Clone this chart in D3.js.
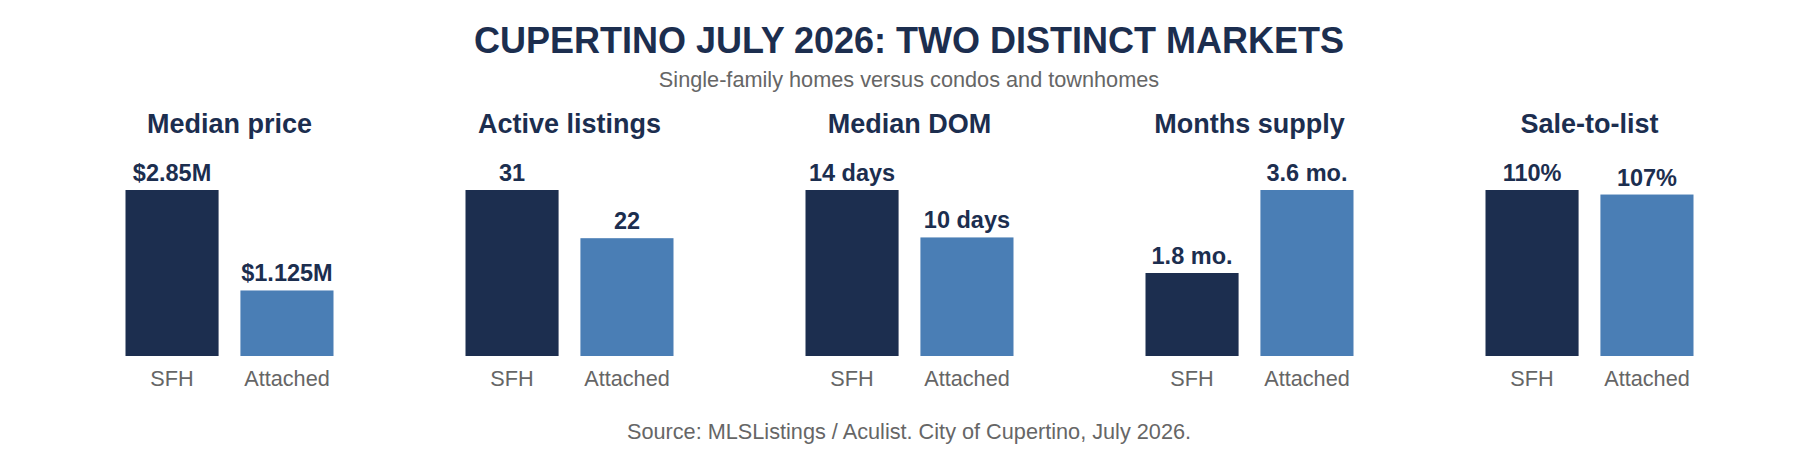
<!DOCTYPE html>
<html>
<head>
<meta charset="utf-8">
<script src="https://cdn.jsdelivr.net/npm/d3@7"></script>
<style>
  html, body { margin: 0; padding: 0; background: #ffffff; }
  svg { display: block; }
  text { font-family: "Liberation Sans", Arial, sans-serif; }
</style>
</head>
<body>
<svg id="chart" width="1818" height="455"></svg>
<script>
// ---- data ----
const chartTitle = "CUPERTINO JULY 2026: TWO DISTINCT MARKETS";
const chartSubtitle = "Single-family homes versus condos and townhomes";
const sourceNote = "Source: MLSListings / Aculist. City of Cupertino, July 2026.";
const metrics = ["Median price", "Active listings", "Median DOM", "Months supply", "Sale-to-list"];
const categories = ["SFH", "Attached"];
const sfhValues = [2.85, 31, 14, 1.8, 110];
const attachedValues = [1.125, 22, 10, 3.6, 107];
const sfhLabels = ["$2.85M", "31", "14 days", "1.8 mo.", "110%"];
const attachedLabels = ["$1.125M", "22", "10 days", "3.6 mo.", "107%"];

// ---- styles ----
const NAVY = "#1c2e4f";
const BLUE = "#4a7eb5";
const GRAY = "#666666";
const colors = { SFH: NAVY, Attached: BLUE };

const W = 1818, H = 455;
const svg = d3.select("#chart");

// titles
svg.append("text").attr("x", 909).attr("y", 53).attr("text-anchor", "middle")
  .attr("font-size", 36).attr("font-weight", "bold").attr("fill", NAVY).text(chartTitle);
svg.append("text").attr("x", 909).attr("y", 87).attr("text-anchor", "middle")
  .attr("font-size", 21.7).attr("fill", GRAY).text(chartSubtitle);
svg.append("text").attr("x", 909).attr("y", 439).attr("text-anchor", "middle")
  .attr("font-size", 21.7).attr("fill", GRAY).text(sourceNote);

// panel positions
const panelScale = d3.scaleBand().domain(metrics).range([59.5, 1759.5]).paddingInner(0);
const baseY = 356, topY = 190;

metrics.forEach((m, i) => {
  const cx = panelScale(m) + panelScale.bandwidth() / 2;
  const x = d3.scaleBand().domain(categories).range([cx - 104, cx + 104]).paddingInner(0.19).paddingOuter(0);
  const vals = { SFH: sfhValues[i], Attached: attachedValues[i] };
  const labs = { SFH: sfhLabels[i], Attached: attachedLabels[i] };
  const maxV = d3.max(categories, c => vals[c]);
  const y = d3.scaleLinear().domain([0, maxV]).range([baseY, topY]);

  const g = svg.append("g");

  g.append("text").attr("x", cx).attr("y", 133).attr("text-anchor", "middle")
    .attr("font-size", 27).attr("font-weight", "bold").attr("fill", NAVY).text(m);

  g.selectAll("rect.bar").data(categories).join("rect")
    .attr("class", "bar")
    .attr("x", c => x(c))
    .attr("width", x.bandwidth())
    .attr("y", c => y(vals[c]))
    .attr("height", c => baseY - y(vals[c]))
    .attr("fill", c => colors[c]);

  g.selectAll("text.val").data(categories).join("text")
    .attr("class", "val")
    .attr("x", c => x(c) + x.bandwidth() / 2)
    .attr("y", c => y(vals[c]) - 9)
    .attr("text-anchor", "middle")
    .attr("font-size", 23.5).attr("font-weight", "bold").attr("fill", NAVY)
    .text(c => labs[c]);

  const axis = g.append("g").attr("transform", `translate(0,${baseY})`)
    .call(d3.axisBottom(x).tickSize(0).tickPadding(0));
  axis.select(".domain").remove();
  axis.selectAll("text")
    .attr("y", 30).attr("dy", 0)
    .attr("font-size", 21.7)
    .attr("font-family", "'Liberation Sans', Arial, sans-serif")
    .attr("fill", GRAY);
});
</script>
</body>
</html>
